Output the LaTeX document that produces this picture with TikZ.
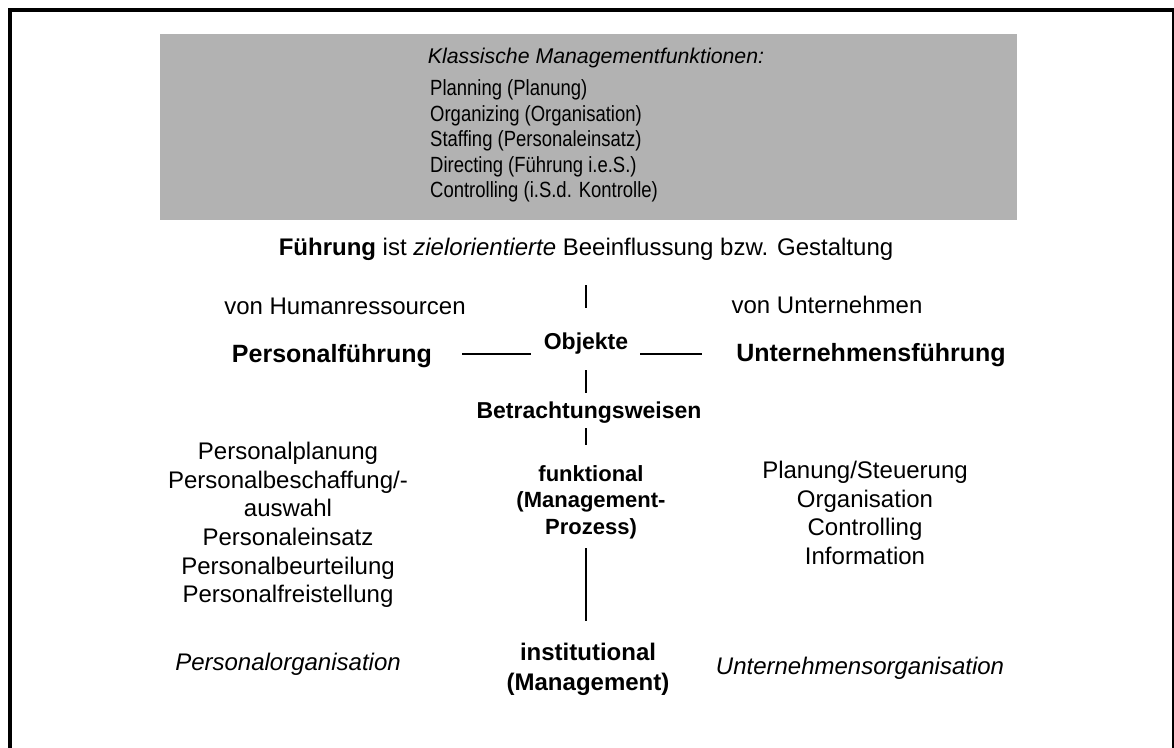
\documentclass[tikz,border=0pt]{standalone}
\usepackage{fontspec}
\setmainfont{Liberation Sans}
\newfontfamily\narrowsans[FakeStretch=0.84]{Liberation Sans}
\definecolor{panelgrey}{HTML}{B2B2B2}
\begin{document}
\begin{tikzpicture}[x=1pt,y=-1pt,
  txt/.style={inner sep=0pt, align=center, font=\fontsize{24}{28.6}\selectfont},
  head/.style={inner sep=0pt, align=center, font=\fontsize{25}{30}\selectfont\bfseries},
  mid/.style={inner sep=0pt, align=center, font=\fontsize{23}{28}\selectfont\bfseries},
  small/.style={inner sep=0pt, align=center, font=\fontsize{22}{26.5}\selectfont\bfseries},
  link/.style={line width=2pt}]
\useasboundingbox (0,0) rectangle (1174,747);
\clip (0,0) rectangle (1174,747);

% outer frame
\draw[line width=3.4pt] (10,10) rectangle (1173.3,790);

% grey panel with the classic management functions
\node[fill=panelgrey, inner sep=0pt, minimum width=857pt, minimum height=186pt,
      anchor=north west] (panel) at (160,34) {};
\node[inner sep=0pt, font=\fontsize{21.3}{25}\selectfont\itshape]
  (klass) at (596,58) {Klassische Managementfunktionen:};
\node[inner sep=0pt, anchor=west, align=left,
      font=\fontsize{22}{25.4}\selectfont\narrowsans]
  (funcs) at (430,141) {Planning (Planung)\\Organizing (Organisation)\\Staffing (Personaleinsatz)\\Directing (F\"uhrung i.e.S.)\\Controlling (i.S.d. Kontrolle)};

% definition line
\node[txt] (def) at (586,249) {\textbf{F\"uhrung} ist \textit{zielorientierte} Beeinflussung bzw. Gestaltung};

% objects
\node[txt] (vonhr) at (345,306) {von Humanressourcen};
\node[txt] (vonun) at (827,305) {von Unternehmen};
\node[head] (pf) at (332,356) {Personalf\"uhrung};
\node[head] (uf) at (871,355) {Unternehmensf\"uhrung};
\node[mid] (obj) at (586,344) {Objekte};
\node[mid] (betr) at (589,413) {Betrachtungsweisen};

% functional view
\node[small] (funk) at (591,502) {funktional\\(Management-\\Prozess)};
\node[txt] (plist) at (288,525) {Personalplanung\\Personalbeschaffung/-\\auswahl\\Personaleinsatz\\Personalbeurteilung\\Personalfreistellung};
\node[txt] (ulist) at (865,513) {Planung/Steuerung\\Organisation\\Controlling\\Information};

% institutional view
\node[txt, font=\fontsize{24}{30}\selectfont\bfseries] (inst) at (588,669) {institutional\\(Management)};
\node[txt, font=\fontsize{24}{28}\selectfont\itshape] (porg) at (288,664) {Personalorganisation};
\node[txt, font=\fontsize{24}{28}\selectfont\itshape] (uorg) at (860,668) {Unternehmensorganisation};

% connector ends
\coordinate (a1) at (586,285); \coordinate (a2) at (586,308);
\coordinate (b1) at (586,370); \coordinate (b2) at (586,393);
\coordinate (c1) at (586,428); \coordinate (c2) at (586,445);
\coordinate (d1) at (586,548); \coordinate (d2) at (586,621);
\coordinate (l1) at (462,354); \coordinate (l2) at (531,354);
\coordinate (r1) at (640,354); \coordinate (r2) at (702,354);

\draw[link] (a1) -- (a2);
\draw[link] (b1) -- (b2);
\draw[link] (c1) -- (c2);
\draw[link] (d1) -- (d2);
\draw[link] (l1) -- (l2);
\draw[link] (r1) -- (r2);
\end{tikzpicture}
\end{document}
